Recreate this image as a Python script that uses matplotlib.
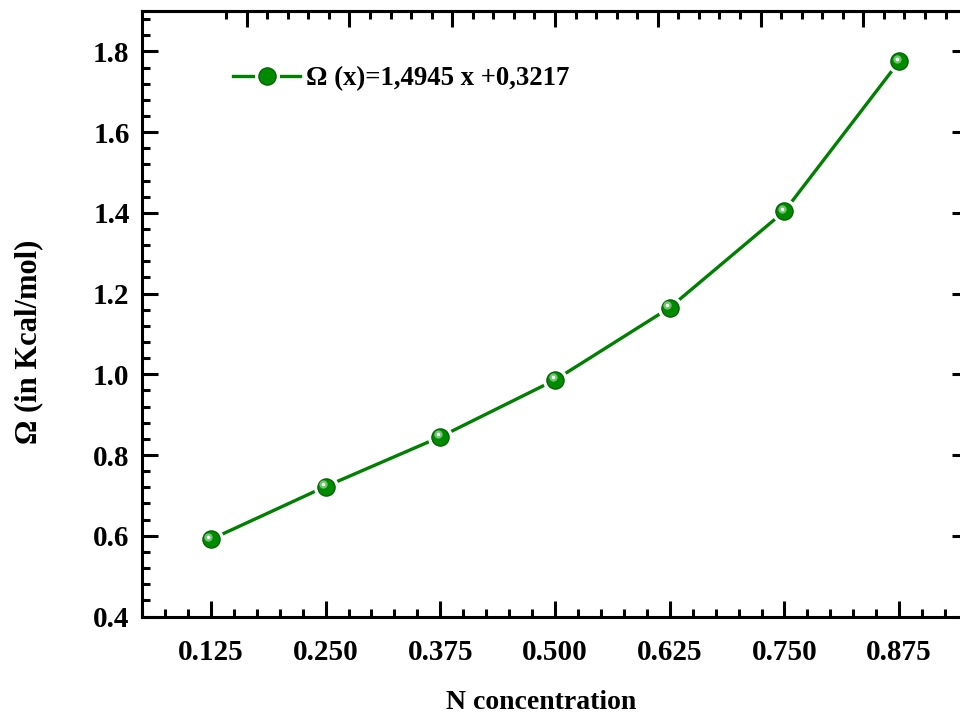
import numpy as np
import matplotlib
matplotlib.use("Agg")
import matplotlib.pyplot as plt
from matplotlib.ticker import MultipleLocator, FixedLocator
from matplotlib.transforms import offset_copy

# data
n_conc = [0.125, 0.250, 0.375, 0.500, 0.625, 0.750, 0.875]
omega = [0.591, 0.722, 0.845, 0.986, 1.165, 1.404, 1.775]
x_ticks = [0.125, 0.250, 0.375, 0.500, 0.625, 0.750, 0.875]
x_ticklabels = ["0.125", "0.250", "0.375", "0.500", "0.625", "0.750", "0.875"]
legend_label = "\u03a9 (x)=1,4945 x +0,3217"

GREEN = "#008000"
plt.rcParams['font.family'] = ['Liberation Serif', 'DejaVu Serif']
plt.rcParams['font.weight'] = 'bold'

fig = plt.figure(figsize=(9.6, 7.18), dpi=100)
ax = fig.add_axes([142 / 960, 101.5 / 718, 826 / 960, 605.5 / 718])

# line + origin-style sphere markers (white ring makes the gap)
line, = ax.plot(n_conc, omega, color=GREEN, lw=2.4, zorder=2)
ring, = ax.plot(n_conc, omega, 'o', ms=17, mfc='white', mec='white', zorder=3)
ball, = ax.plot(n_conc, omega, 'o', ms=12.5, mfc='#008a00', mec='#005a00', mew=0.8, zorder=4)
hl = offset_copy(ax.transData, fig=fig, x=-2.5, y=2.5, units='dots')
ax.plot(n_conc, omega, 'o', ms=6, mfc='#6cc46c', mec='none', transform=hl, zorder=5)
ax.plot(n_conc, omega, 'o', ms=2.6, mfc='white', mec='none', transform=hl, zorder=6)

ax.set_xlim(0.05, 0.95)
ax.set_ylim(0.4, 1.9)
ax.xaxis.set_major_locator(FixedLocator(x_ticks))
ax.set_xticklabels(x_ticklabels)
ax.xaxis.set_minor_locator(MultipleLocator(0.025))
ax.yaxis.set_major_locator(FixedLocator(np.arange(0.4, 1.81, 0.2)))
ax.yaxis.set_minor_locator(MultipleLocator(0.04))
ax.set_yticklabels([f"{v:.1f}" for v in np.arange(0.4, 1.81, 0.2)])

for s in ax.spines.values():
    s.set_linewidth(2.2)
ax.tick_params(which='major', direction='in', length=11.5, width=2.2,
               labelsize=21, right=True, top=False)
ax.tick_params(axis='x', which='major', pad=16)
ax.tick_params(axis='y', which='major', pad=9)
ax.tick_params(which='minor', direction='in', length=6, width=2.2,
               right=False, top=False)

# top axis has its own tick spacing (no labels)
top = ax.secondary_xaxis('top')
top_major = 0.5 + 0.112 * np.arange(-3, 4)
top_minor = 0.5 + 0.0224 * np.arange(-16, 21)
top.xaxis.set_major_locator(FixedLocator(top_major))
top.xaxis.set_minor_locator(FixedLocator(top_minor))
top.tick_params(which='major', direction='in', length=11.5, width=2.2, labeltop=False)
top.tick_params(which='minor', direction='in', length=6, width=2.2)
top.spines['top'].set_linewidth(2.2)

ax.set_xlabel("N concentration", fontsize=20, fontweight='bold')
ax.xaxis.set_label_coords(0.483, -0.121)
ax.set_ylabel("\u03a9 (in Kcal/mol)", fontsize=22, fontweight='bold')
ax.yaxis.set_label_coords(-0.12, 0.453)

ax.legend([(line, ring, ball)], [legend_label], loc='center left',
          bbox_to_anchor=(233 / 960, 1 - 79 / 718), bbox_transform=fig.transFigure,
          frameon=False, borderpad=0, borderaxespad=0, handlelength=2.5,
          handletextpad=0.23, prop={'size': 19.3, 'weight': 'bold'})

fig.savefig("out.png", dpi=100)
